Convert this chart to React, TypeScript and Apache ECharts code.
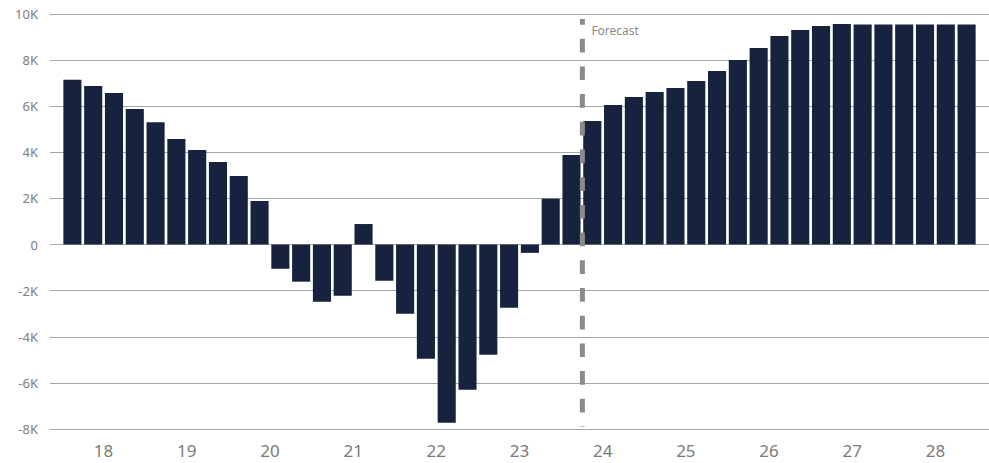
import React, { useEffect, useRef } from "react";
import * as echarts from "echarts";

// Quarterly values, 2018 Q1 through 2028 Q4
const quarters: string[] = [];
for (let y = 2018; y <= 2028; y++) for (let q = 1; q <= 4; q++) quarters.push(`${y} Q${q}`);

const values = [
  7150, 6880, 6570, 5880, 5310, 4580, 4100, 3580, 2970, 1890,
  -1050, -1610, -2480, -2220, 890, -1570, -3000, -4950, -7730, -6300,
  -4780, -2740, -360, 1990, 3880, 5360, 6050, 6400, 6620, 6790,
  7090, 7530, 8000, 8520, 9050, 9310, 9480, 9570, 9540, 9540,
  9540, 9540, 9540, 9540,
];

const yearLabels = ["18", "19", "20", "21", "22", "23", "24", "25", "26", "27", "28"];

// First forecast quarter (2024 Q2)
const forecastStart = 25;
const forecastLabel = "Forecast";

const Y_MIN = -8000;
const Y_MAX = 10000;
const Y_STEP = 2000;

const FONT = "'Noto Sans', sans-serif";
const BAR_COLOR = "#17223f";

export default function App() {
  const ref = useRef<HTMLDivElement>(null);

  useEffect(() => {
    if (!ref.current) return;
    const chart = echarts.init(ref.current, undefined, { renderer: "svg" });

    const option: echarts.EChartsCoreOption = {
      animation: false,
      backgroundColor: "#ffffff",
      grid: [
        { left: 50, right: 0, top: 14, bottom: 34 },
        { left: 62, right: 12, top: 14, bottom: 34 },
      ],
      xAxis: [
        { type: "category", gridIndex: 0, data: [""], show: false },
        {
          type: "category",
          gridIndex: 1,
          data: quarters,
          axisLine: { show: false },
          axisTick: { show: false },
          axisLabel: { show: false },
        },
        {
          type: "category",
          gridIndex: 1,
          position: "bottom",
          data: yearLabels,
          axisLine: { show: false },
          axisTick: { show: false },
          axisLabel: { color: "#7a7a7a", fontSize: 17, fontFamily: FONT, margin: 13 },
        },
      ],
      yAxis: [
        {
          type: "value",
          gridIndex: 0,
          min: Y_MIN,
          max: Y_MAX,
          interval: Y_STEP,
          axisLine: { show: false },
          axisTick: { show: false },
          axisLabel: {
            color: "#808080",
            fontSize: 13,
            fontFamily: FONT,
            margin: 12,
            formatter: (v: number) => (v === 0 ? "0" : `${v / 1000}K`),
          },
          splitLine: { lineStyle: { color: "#a6a6a6", width: 1 } },
        },
        {
          type: "value",
          gridIndex: 1,
          min: Y_MIN,
          max: Y_MAX,
          interval: Y_STEP,
          show: false,
          splitLine: { show: false },
        },
      ],
      series: [
        {
          type: "bar",
          xAxisIndex: 1,
          yAxisIndex: 1,
          data: values,
          barCategoryGap: "13%",
          itemStyle: { color: BAR_COLOR },
        },
      ],
    };
    chart.setOption(option);

    // Dashed divider between actuals and forecast, placed on the band boundary
    const a = chart.convertToPixel({ xAxisIndex: 1 }, forecastStart - 1) as number;
    const b = chart.convertToPixel({ xAxisIndex: 1 }, forecastStart) as number;
    const x = (a + b) / 2 + 0.5;
    chart.setOption({
      graphic: [
        {
          type: "line",
          shape: { x1: x, y1: 19, x2: x, y2: 427 },
          style: { stroke: "#8a8a8a", lineWidth: 5, lineDash: [13.7, 14], lineDashOffset: 7.5 },
          z: 10,
        },
        {
          type: "text",
          x: x + 9,
          y: 30,
          style: {
            text: forecastLabel,
            fill: "#8a8a8a",
            fontSize: 12,
            fontFamily: FONT,
            verticalAlign: "middle",
          },
          z: 10,
        },
      ],
    });

    return () => chart.dispose();
  }, []);

  return <div ref={ref} style={{ width: 989, height: 463, position: "absolute", left: 0, top: 0 }} />;
}
